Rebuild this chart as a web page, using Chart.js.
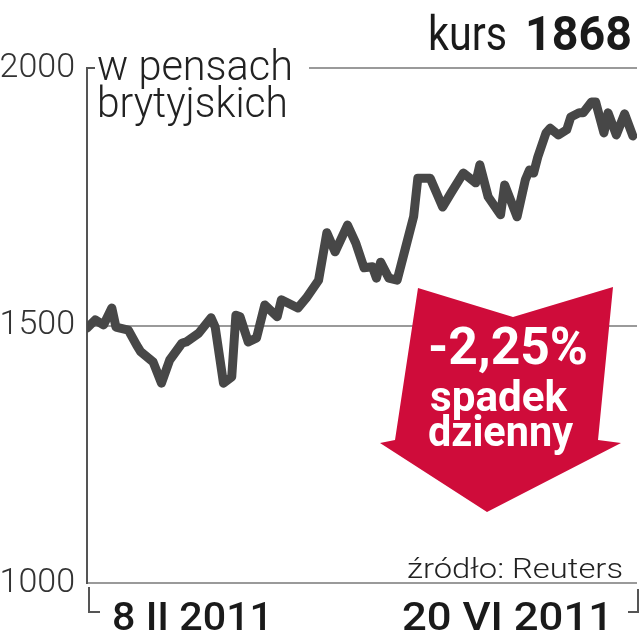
<!DOCTYPE html>
<html><head><meta charset="utf-8">
<script src="https://cdn.jsdelivr.net/npm/chart.js@4/dist/chart.umd.min.js"></script>
<style>html,body{margin:0;padding:0;background:#fff}#wrap{width:640px;height:640px}</style>
</head><body><div id="wrap"><canvas id="c" width="640" height="640"></canvas></div>
<script>
// trading-day offsets from 8 II 2011 (calendar days)
const dayOffsets = [0,2,4,6,7,10,12,13,16,18,20,23,24,27,30,31,33,35,36,37,39,41,43,46,47,51,53,56,58,60,63,65,67,69,70,71,73,75,77,79,80,83,86,88,91,94,95,97,100,101,104,106,107,108,109,111,112,114,116,117,119,120,122,123,125,126,128,130,132];
const prices = [1495,1511,1501,1534,1497,1491,1462,1449,1429,1388,1433,1466,1468,1485,1515,1497,1388,1400,1520,1517,1468,1476,1540,1517,1550,1534,1553,1588,1680,1643,1695,1660,1612,1614,1592,1623,1592,1588,1650,1712,1786,1786,1730,1757,1796,1777,1812,1750,1715,1773,1711,1783,1802,1796,1827,1874,1883,1870,1880,1905,1913,1913,1934,1934,1874,1913,1870,1911,1868];
const yTicks = [1000, 1500, 2000];
const xLabels = ['8 II 2011', '20 VI 2011'];
const unitLines = ['w pensach', 'brytyjskich'];
const titleWord = 'kurs';
const lastPrice = '1868';
const changeLines = ['-2,25%', 'spadek', 'dzienny'];
const sourceText = 'źródło: Reuters';

function fitText(ctx, str, x, y, font, color, align, width) {
  ctx.save();
  ctx.font = font; ctx.fillStyle = color; ctx.textBaseline = 'alphabetic'; ctx.textAlign = align;
  const w = ctx.measureText(str).width;
  ctx.translate(x, y); ctx.scale(width / w, 1);
  ctx.fillText(str, 0, 0);
  ctx.restore();
}

const decor = {
  id: 'decor',
  afterDraw(chart) {
    const ctx = chart.ctx;
    const ca = chart.chartArea;
    ctx.save();
    ctx.fillStyle = '#fff';
    ctx.fillRect(ca.left + 4, ca.top - 8, 218, 16);
    ctx.strokeStyle = '#555'; ctx.lineWidth = 2;
    ctx.beginPath(); ctx.moveTo(ca.left, ca.top + 6); ctx.lineTo(ca.left, ca.top); ctx.lineTo(ca.left + 8, ca.top); ctx.stroke();
    ctx.beginPath(); ctx.moveTo(ca.left + 2, ca.bottom + 4); ctx.lineTo(ca.left + 2, ca.bottom + 29); ctx.lineTo(ca.left + 13, ca.bottom + 29); ctx.stroke();
    ctx.beginPath(); ctx.moveTo(ca.right + 1, ca.bottom + 6); ctx.lineTo(ca.right + 1, ca.bottom + 29); ctx.lineTo(ca.right - 9, ca.bottom + 29); ctx.stroke();
    ctx.restore();

    const fam = 'Roboto, "Open Sans", sans-serif';
    fitText(ctx, unitLines[0], 97, 80, '300 42px ' + fam, '#222', 'left', 196);
    fitText(ctx, unitLines[1], 97, 117, '300 42px ' + fam, '#222', 'left', 191);
    fitText(ctx, titleWord, 428, 50, '400 48px ' + fam, '#1a1a1a', 'left', 79);
    fitText(ctx, lastPrice, 525, 50, '700 49px ' + fam, '#1a1a1a', 'left', 107);
    fitText(ctx, sourceText, 407, 578, '300 28px ' + fam, '#222', 'left', 216);
    fitText(ctx, xLabels[0], 112, 630, '500 39px ' + fam, '#1a1a1a', 'left', 161);
    fitText(ctx, xLabels[1], 402, 630, '500 39px ' + fam, '#1a1a1a', 'left', 211);

    ctx.save();
    ctx.fillStyle = '#cf0c3a';
    ctx.beginPath();
    const pts = [[418,288],[513,317],[613,287],[598,440],[621,443],[487,512],[380,443],[395,440]];
    ctx.moveTo(pts[0][0], pts[0][1]);
    for (let i = 1; i < pts.length; i++) ctx.lineTo(pts[i][0], pts[i][1]);
    ctx.closePath(); ctx.fill();
    ctx.restore();
    fitText(ctx, changeLines[0], 428, 364, '700 52px ' + fam, '#fff', 'left', 160);
    fitText(ctx, changeLines[1], 430, 411, '700 43px ' + fam, '#fff', 'left', 137);
    fitText(ctx, changeLines[2], 428, 446, '700 43px ' + fam, '#fff', 'left', 145);
  }
};

new Chart(document.getElementById('c'), {
  type: 'line',
  data: {
    datasets: [{
      data: dayOffsets.map((d, i) => ({ x: d, y: prices[i] })),
      borderColor: '#474747',
      borderWidth: 9,
      borderJoinStyle: 'round',
      borderCapStyle: 'round',
      pointRadius: 0,
      tension: 0,
      fill: false
    }]
  },
  options: {
    responsive: false,
    animation: false,
    devicePixelRatio: 1,
    layout: { padding: { top: 68, right: 3, bottom: 57, left: 0 } },
    plugins: { legend: { display: false }, tooltip: { enabled: false } },
    scales: {
      x: { type: 'linear', min: 0, max: 133, display: false },
      y: {
        min: 1000, max: 2000,
        afterBuildTicks: s => { s.ticks = yTicks.map(v => ({ value: v })); },
        afterFit: s => { s.width = 87; },
        ticks: { font: { family: 'Roboto', size: 34, weight: '300' }, color: '#333', padding: 12, callback: v => String(v) },
        grid: { drawTicks: false, color: '#9a9a9a', lineWidth: 2 },
        border: { display: true, color: '#555', width: 2 }
      }
    }
  },
  plugins: [decor]
});
</script>
</body></html>
